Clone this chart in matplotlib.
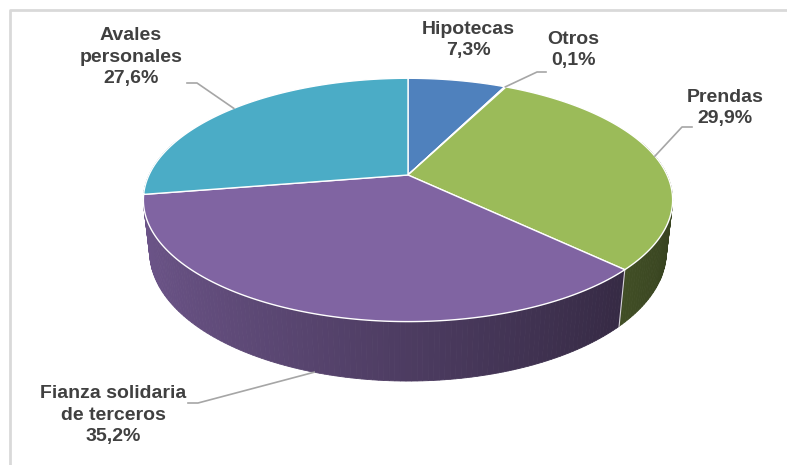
import numpy as np
import matplotlib
matplotlib.use("Agg")
import matplotlib.pyplot as plt
from matplotlib.colors import to_rgb

# data
categories = ["Hipotecas", "Otros", "Prendas", "Fianza solidaria\nde terceros", "Avales\npersonales"]
values = [7.3, 0.1, 29.9, 35.2, 27.6]
value_labels = ["7,3%", "0,1%", "29,9%", "35,2%", "27,6%"]
colors = ["#4F81BD", "#C0504D", "#9BBB59", "#8064A2", "#4BACC6"]

# label block centres (pixels) and leader elbows
label_pos = [(468, 40), (573, 50), (725, 108), (113, 415), (131, 57)]
elbows = [None, [(546, 72), (537, 72)], [(692, 127), (682, 127)],
          [(188, 403), (198, 403)], [(187, 83), (197, 83)]]
on_bottom = [False, False, False, True, False]

# 3d projection params
cx, cy = 408, 175
alpha = np.arcsin(0.45)
D = 4.356
f = 259 * D
h = 0.225


def proj(theta, y):
    x = np.sin(theta)
    z = np.cos(theta)
    yc = y * np.cos(alpha) + z * np.sin(alpha)
    zc = D + z * np.cos(alpha) - y * np.sin(alpha)
    return cx + f * x / zc, cy - f * yc / zc, zc


fig = plt.figure(figsize=(7.87, 4.65), dpi=100)
ax = fig.add_axes([0, 0, 1, 1])
ax.set_xlim(0, 787)
ax.set_ylim(465, 0)
ax.axis("off")

# chart frame
ax.plot([10, 10, 787], [465, 10, 10], color="#d9d9d9", lw=2, solid_capstyle="butt")

total = sum(values)
bounds = np.concatenate([[0], np.cumsum(values)]) / total * 2 * np.pi

# side strips
strips = []
for i, c in enumerate(colors):
    t0, t1 = bounds[i], bounds[i + 1]
    n = max(2, int(np.degrees(t1 - t0)))
    ts = np.linspace(t0, t1, n + 1)
    for a, b in zip(ts[:-1], ts[1:]):
        m = (a + b) / 2
        if np.cos(m) > 0.3:
            continue
        xa, ya, _ = proj(a, 0)
        xb, yb, _ = proj(b, 0)
        xb2, yb2, _ = proj(b, -h)
        xa2, ya2, _ = proj(a, -h)
        _, _, zm = proj(m, -h / 2)
        shade = 0.6 - 0.25 * np.sin(m)
        col = tuple(np.array(to_rgb(c)) * shade)
        strips.append((zm, [xa, xb, xb2, xa2], [ya, yb, yb2, ya2], col))

strips.sort(key=lambda s: -s[0])
for _, xs, ys, col in strips:
    ax.fill(xs, ys, color=col, lw=0.6, ec=col)

# white seams down the side at slice boundaries
for t in bounds[1:-1]:
    if np.cos(t) < -0.2:
        x1, y1, _ = proj(t, 0)
        x2, y2, _ = proj(t, -h)
        ax.plot([x1, x2], [y1, y2], color="white", lw=0.8, alpha=0.8)

# top wedges
for i, c in enumerate(colors):
    ts = np.linspace(bounds[i], bounds[i + 1], 200)
    px, py, _ = proj(ts, 0)
    xs = np.concatenate([[cx], px])
    ys = np.concatenate([[cy], py])
    ax.fill(xs, ys, color=c, ec="white", lw=1.0)

# labels and leaders
for i, (cat, lab) in enumerate(zip(categories, value_labels)):
    lx, ly = label_pos[i]
    ax.text(lx, ly, cat + "\n" + lab, ha="center", va="center",
            fontsize=14, fontweight="bold", color="#404040",
            family="Liberation Sans", linespacing=1.35)
    if elbows[i] is not None:
        mid = (bounds[i] + bounds[i + 1]) / 2
        ax_, ay_, _ = proj(mid, -h if on_bottom[i] else 0)
        xs = [p[0] for p in elbows[i]] + [ax_]
        ys = [p[1] for p in elbows[i]] + [ay_]
        ax.plot(xs, ys, color="#a6a6a6", lw=1.2)

fig.savefig("out.png", dpi=100)
